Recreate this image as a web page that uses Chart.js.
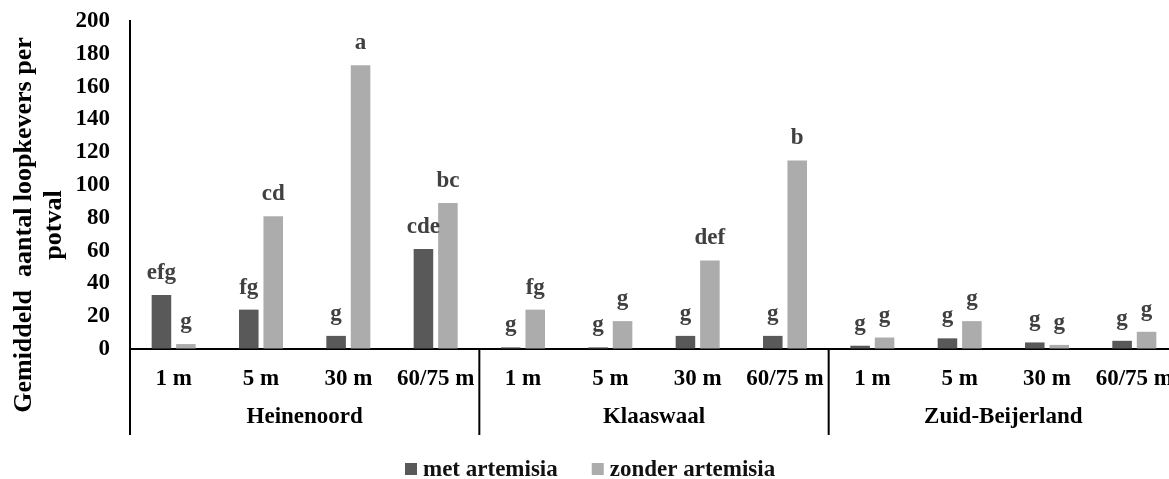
<!DOCTYPE html>
<html>
<head>
<meta charset="utf-8">
<script src="https://cdn.jsdelivr.net/npm/chart.js@4/dist/chart.umd.min.js"></script>
<style>
  html, body { margin: 0; padding: 0; background: #fff; overflow: hidden; }
  #wrap { width: 1180px; height: 479px; }
</style>
</head>
<body>
<div id="wrap"><canvas id="chart-loopkevers" width="1180" height="479"></canvas></div>
<script>
  // data
  const LOCATIES = ['Heinenoord', 'Klaaswaal', 'Zuid-Beijerland'];
  const AFSTANDEN = ['1 m', '5 m', '30 m', '60/75 m'];
  const MET_ARTEMISIA = [33, 24, 8, 61, 1, 1, 8, 8, 2, 6.5, 4, 5];
  const ZONDER_ARTEMISIA = [3, 81, 173, 89, 24, 17, 54, 115, 7, 17, 2.5, 10.5];
  const LETTERS_MET = ['efg', 'fg', 'g', 'cde', 'g', 'g', 'g', 'g', 'g', 'g', 'g', 'g'];
  const LETTERS_ZONDER = ['g', 'cd', 'a', 'bc', 'fg', 'g', 'def', 'b', 'g', 'g', 'g', 'g'];
  const Y_TICKS = [0, 20, 40, 60, 80, 100, 120, 140, 160, 180, 200];
  const Y_TITEL = ['Gemiddeld  aantal loopkevers per', 'potval'];
  const REEKSEN = ['met artemisia', 'zonder artemisia'];

  const SERIF = '"Liberation Serif", "Times New Roman", serif';
  const KLEUR_MET = '#595959';
  const KLEUR_ZONDER = '#acacac';

  const labels = LOCATIES.flatMap(() => AFSTANDEN);

  const extraPlugin = {
    id: 'extra',
    afterDraw(chart) {
      const ctx = chart.ctx;
      const area = chart.chartArea;
      const x = chart.scales.x;
      ctx.save();

      // letters boven de staven
      const letterSets = [LETTERS_MET, LETTERS_ZONDER];
      ctx.font = `bold 23px ${SERIF}`;
      ctx.fillStyle = '#404040';
      ctx.textAlign = 'center';
      ctx.textBaseline = 'alphabetic';
      chart.data.datasets.forEach((ds, di) => {
        chart.getDatasetMeta(di).data.forEach((bar, i) => {
          ctx.fillText(letterSets[di][i], bar.x, bar.y - 16);
        });
      });

      // scheidingslijnen en locatienamen
      const n = AFSTANDEN.length;
      ctx.strokeStyle = '#000';
      ctx.lineWidth = 2;
      const grens = k => k === 0 ? area.left
        : (x.getPixelForValue(k * n - 1) + x.getPixelForValue(k * n)) / 2;
      for (let k = 0; k < LOCATIES.length; k++) {
        const gx = grens(k);
        ctx.beginPath();
        ctx.moveTo(gx, area.bottom);
        ctx.lineTo(gx, 435);
        ctx.stroke();
      }
      ctx.fillStyle = '#000';
      ctx.textBaseline = 'middle';
      LOCATIES.forEach((loc, k) => {
        const cx = (x.getPixelForValue(k * n) + x.getPixelForValue(k * n + n - 1)) / 2;
        ctx.fillText(loc, cx, 417);
      });

      // y-as titel
      ctx.save();
      ctx.translate(24, 225);
      ctx.rotate(-Math.PI / 2);
      ctx.font = `bold 26px ${SERIF}`;
      ctx.textAlign = 'center';
      ctx.textBaseline = 'middle';
      Y_TITEL.forEach((t, i) => ctx.fillText(t, 0, i * 30));
      ctx.restore();

      // legenda
      ctx.font = `bold 23px ${SERIF}`;
      ctx.textAlign = 'left';
      ctx.textBaseline = 'middle';
      const kleuren = [KLEUR_MET, KLEUR_ZONDER];
      let lx = 405;
      REEKSEN.forEach((r, i) => {
        ctx.fillStyle = kleuren[i];
        ctx.fillRect(lx, 463, 12, 12);
        ctx.fillStyle = '#111';
        ctx.fillText(r, lx + 18, 470);
        lx += 18 + ctx.measureText(r).width + 34;
      });

      ctx.restore();
    }
  };

  new Chart(document.getElementById('chart-loopkevers'), {
    type: 'bar',
    data: {
      labels,
      datasets: [
        { label: REEKSEN[0], data: MET_ARTEMISIA, backgroundColor: KLEUR_MET },
        { label: REEKSEN[1], data: ZONDER_ARTEMISIA, backgroundColor: KLEUR_ZONDER }
      ]
    },
    options: {
      responsive: false,
      animation: false,
      devicePixelRatio: 1,
      categoryPercentage: 0.56,
      barPercentage: 0.8,
      layout: { padding: { left: 0, right: 2, top: 21, bottom: 0 } },
      plugins: { legend: { display: false }, tooltip: { enabled: false } },
      scales: {
        x: {
          grid: { display: true, drawOnChartArea: false, drawTicks: false },
          border: { display: true, color: '#000', width: 2 },
          ticks: {
            color: '#000',
            padding: 16,
            maxRotation: 0,
            autoSkip: false,
            font: { family: SERIF, size: 23, weight: 'bold' }
          },
          afterFit: s => { s.height = 130; s.paddingLeft = 0; s.paddingRight = 0; }
        },
        y: {
          min: 0,
          max: 200,
          grid: { display: true, drawOnChartArea: false, drawTicks: false },
          border: { display: true, color: '#000', width: 2 },
          afterBuildTicks: s => { s.ticks = Y_TICKS.map(v => ({ value: v })); },
          ticks: {
            color: '#000',
            padding: 20,
            font: { family: SERIF, size: 23, weight: 'bold' }
          },
          afterFit: s => { s.width = 130; s.paddingTop = 0; s.paddingBottom = 0; }
        }
      }
    },
    plugins: [extraPlugin]
  });
</script>
</body>
</html>
